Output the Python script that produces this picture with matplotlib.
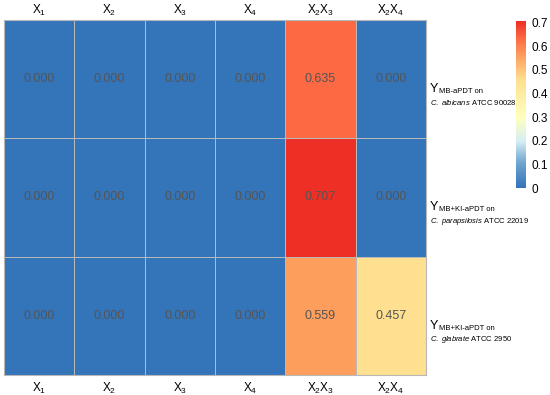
import matplotlib.pyplot as plt
import numpy as np
from matplotlib.colors import LinearSegmentedColormap

plt.rcParams['font.family'] = ['Liberation Sans', 'DejaVu Sans']
plt.rcParams['mathtext.fontset'] = 'custom'
plt.rcParams['mathtext.rm'] = 'Liberation Sans'
plt.rcParams['mathtext.it'] = 'Liberation Sans:italic'

col_labels = [r"X$_1$", r"X$_2$", r"X$_3$", r"X$_4$", r"X$_2$X$_3$", r"X$_2$X$_4$"]
row_resp = ["MB-aPDT on", "MB+KI-aPDT on", "MB+KI-aPDT on"]
row_species = [r"$\mathit{C.\ albicans}$ ATCC 90028",
               r"$\mathit{C.\ parapsilosis}$ ATCC 22019",
               r"$\mathit{C.\ glabrate}$ ATCC 2950"]
row1 = [0.000, 0.000, 0.000, 0.000, 0.635, 0.000]
row2 = [0.000, 0.000, 0.000, 0.000, 0.707, 0.000]
row3 = [0.000, 0.000, 0.000, 0.000, 0.559, 0.457]
values = np.array([row1, row2, row3])

cmap = LinearSegmentedColormap.from_list("rdylbu_custom", [
    (0.0, "#3474b8"),
    (0.15, "#6fa5d0"),
    (0.28, "#d6eef4"),
    (0.42, "#ffffbf"),
    (0.646, "#fee090"),
    (0.79, "#fd9f5e"),
    (0.9, "#fc6843"),
    (1.0, "#ee2f25"),
])
vmax = values.max()

fig = plt.figure(figsize=(5.5, 3.95), dpi=100)
ax = fig.add_axes([0.007, 0.0506, 0.7675, 0.8988])
mesh = ax.pcolormesh(values, cmap=cmap, vmin=0, vmax=vmax,
                     edgecolor="#b8b8b8", linewidth=0.7)
ax.set_xlim(0, values.shape[1])
ax.set_ylim(values.shape[0], 0)
for sp in ax.spines.values():
    sp.set_color("#b8b8b8")
    sp.set_linewidth(0.8)
ticks = np.arange(values.shape[1]) + 0.5
ax.set_xticks(ticks)
ax.set_xticklabels(col_labels, fontsize=8.5)
ax.tick_params(axis="x", length=0, pad=4)
ax.set_yticks([])

top = ax.secondary_xaxis("top")
top.set_xticks(ticks)
top.set_xticklabels(col_labels, fontsize=8.5)
top.tick_params(length=0, pad=1.5)
top.spines["top"].set_visible(False)

for i in range(values.shape[0]):
    for j in range(values.shape[1]):
        ax.text(j + 0.5, i + 0.5, "%.3f" % values[i, j], ha="center", va="center",
                fontsize=9, color="#555555")

# row labels on the right
for i in range(values.shape[0]):
    ax.annotate("Y", xy=(1.0, i + 0.5), xycoords=("axes fraction", "data"),
                xytext=(3, -7), textcoords="offset points",
                fontsize=9, ha="left", va="center", annotation_clip=False)
    ax.annotate(row_resp[i], xy=(1.0, i + 0.5), xycoords=("axes fraction", "data"),
                xytext=(9.5, -9), textcoords="offset points",
                fontsize=5.5, ha="left", va="center", annotation_clip=False)
    ax.annotate(row_species[i], xy=(1.0, i + 0.5), xycoords=("axes fraction", "data"),
                xytext=(3, -17), textcoords="offset points",
                fontsize=5.5, ha="left", va="center", annotation_clip=False)

cax = fig.add_axes([0.938, 0.524, 0.018, 0.423])
cb = fig.colorbar(mesh, cax=cax, ticks=[0, 0.1, 0.2, 0.3, 0.4, 0.5, 0.6, 0.7])
cb.set_ticklabels(["0", "0.1", "0.2", "0.3", "0.4", "0.5", "0.6", "0.7"])
cb.outline.set_visible(False)
cax.tick_params(length=0, labelsize=8.5, pad=4)

fig.savefig("out.png", dpi=100)
